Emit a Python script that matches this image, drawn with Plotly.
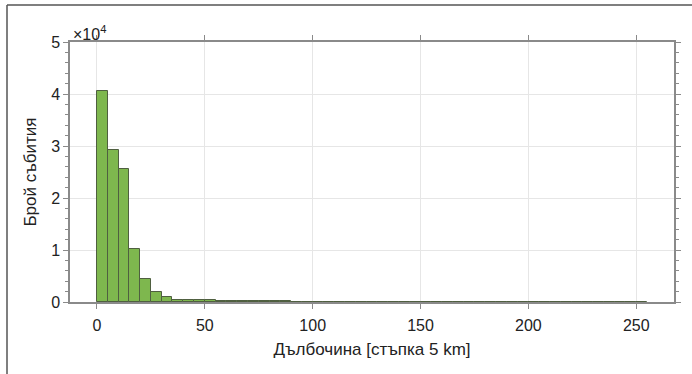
import plotly.graph_objects as go

# Histogram data: depth bins (step 5 km) and number of events
bin_left = list(range(0, 255, 5))
counts = [40500, 29300, 25500, 10200, 4500, 1900, 900, 450,
          350, 300, 320, 280, 250, 220, 190, 160, 130, 100,
          80, 60, 50, 40, 35, 30, 30, 25, 25, 20, 20, 20,
          15, 15, 15, 12, 12, 10, 10, 10, 10, 8, 8, 8,
          8, 6, 6, 6, 6, 5, 5, 5, 5]
bin_width = 5
x_ticks = [0, 50, 100, 150, 200, 250]
y_ticks = [0, 10000, 20000, 30000, 40000, 50000]
y_ticktext = ["0", "1", "2", "3", "4", "5"]

x_title = "Дълбочина [стъпка 5 km]"
y_title = "Брой събития"

centers = [b + bin_width / 2 for b in bin_left]

fig = go.Figure()
fig.add_trace(go.Bar(
    x=centers, y=counts[:len(centers)], width=bin_width,
    marker=dict(color="#7eb74e", line=dict(color="#4f5f40", width=1)),
    showlegend=False,
))

font_family = "Liberation Sans, Arial, sans-serif"
axis_color = "#8a8a8a"

fig.update_layout(
    width=692, height=374,
    margin=dict(l=70, r=18, t=42, b=72),
    paper_bgcolor="white", plot_bgcolor="white",
    font=dict(family=font_family, size=16, color="#222222"),
    bargap=0,
    xaxis=dict(
        range=[-12.5, 267.5], tickvals=x_ticks,
        showgrid=True, gridcolor="#e6e6e6", gridwidth=1,
        showline=True, linecolor=axis_color, linewidth=1.5, mirror="ticks",
        ticks="outside", ticklen=5, tickcolor=axis_color,
        tickfont=dict(size=16), ticklabelstandoff=3,
        zeroline=False,
        title=dict(text=x_title, font=dict(size=17, color="#222222"), standoff=10),
    ),
    yaxis=dict(
        range=[0, 50000], tickvals=y_ticks, ticktext=y_ticktext,
        showgrid=True, gridcolor="#e6e6e6", gridwidth=1,
        showline=True, linecolor=axis_color, linewidth=1.5, mirror="ticks",
        ticks="outside", ticklen=5, tickcolor=axis_color,
        tickfont=dict(size=16),
        minor=dict(dtick=2000, ticks="outside", ticklen=3, tickcolor=axis_color, showgrid=False),
        zeroline=False,
        title=dict(text=y_title, font=dict(size=17, color="#222222"), standoff=10),
    ),
)

fig.add_annotation(
    text="×10<sup>4</sup>", xref="paper", yref="paper",
    x=0.0, y=1.0, xanchor="left", yanchor="bottom", xshift=1, yshift=-3,
    showarrow=False, font=dict(size=16, color="#222222"),
)

# Outer frame lines (left and top) of the cropped picture
fig.add_shape(type="line", xref="paper", yref="paper",
              x0=-63 / 604, x1=622 / 604, y0=1 + 37 / 260, y1=1 + 37 / 260,
              line=dict(color="#555555", width=1.5))
fig.add_shape(type="line", xref="paper", yref="paper",
              x0=-63 / 604, x1=-63 / 604, y0=1 + 37 / 260, y1=-72 / 260,
              line=dict(color="#555555", width=1.5))

fig.write_html("out.html")
